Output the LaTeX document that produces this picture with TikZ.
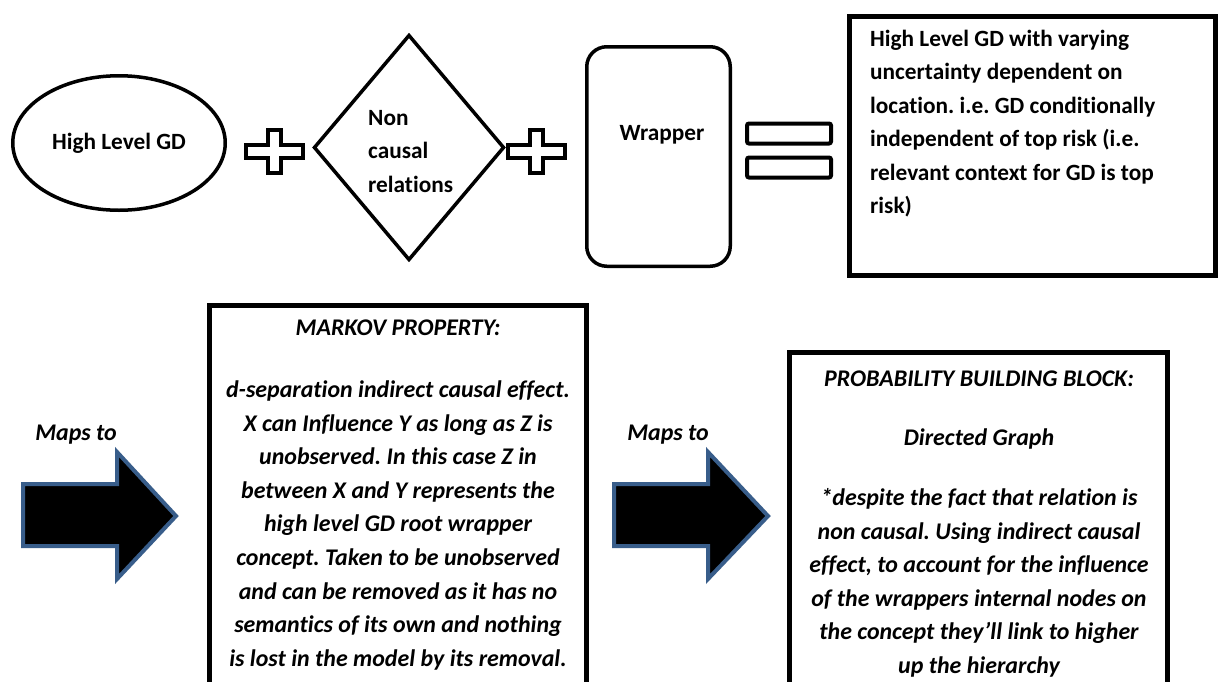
\documentclass[tikz,border=0pt]{standalone}
\usepackage{fontspec}
\setmainfont{Carlito}[Ligatures=NoCommon]
\usetikzlibrary{shapes.geometric}
\definecolor{arrowblue}{HTML}{385D8A}
\frenchspacing
\tikzset{
  shapeline/.style={draw=black, line width=3.5pt},
  boxline/.style={draw=black, line width=5pt, inner sep=0pt},
  txt/.style={font=\fontsize{23.3}{33.5}\selectfont\bfseries, inner sep=0pt},
  itxt/.style={font=\fontsize{23.9}{33.6}\selectfont\bfseries\itshape, inner sep=0pt, align=center},
  bigarrow/.style={fill=black, draw=arrowblue, line width=4pt, line join=miter},
  eqbar/.style={draw=black, line width=4pt, rounded corners=2pt, minimum width=84pt, minimum height=20pt, inner sep=0pt},
  pics/plussign/.style={code={
    \draw[line width=3.8pt, line join=miter]
      (-6.5,-21.5) -- (6.5,-21.5) -- (6.5,-6.5) -- (28.5,-6.5) -- (28.5,6.5) -- (6.5,6.5)
      -- (6.5,21.5) -- (-6.5,21.5) -- (-6.5,6.5) -- (-28.5,6.5) -- (-28.5,-6.5) -- (-6.5,-6.5) -- cycle;
  }}
}
\begin{document}
\begin{tikzpicture}[x=1pt,y=-1pt]
\clip (0,0) rectangle (1224,681);
\fill[white] (0,0) rectangle (1224,681);

% top row
\node[ellipse, shapeline, minimum width=212.5pt, minimum height=134.5pt, inner sep=0pt, txt] (hl) at (119,143) {High Level GD};
\pic at (274.5,151.5) {plussign};
\node[diamond, shapeline, minimum width=190.5pt, minimum height=225.5pt, inner sep=0pt] (nc) at (409,147.5) {};
\node[txt, align=left, anchor=north west] (nct) at (368,110) {Non\\causal\\relations};
\pic at (536.5,151.5) {plussign};
\node[shapeline, rounded corners=20pt, minimum width=143.5pt, minimum height=219.5pt, inner sep=0pt] (wr) at (658.5,156.5) {};
\node[txt] (wrt) at (662,135) {Wrapper};
\node[eqbar] (eq1) at (789,133.5) {};
\node[eqbar] (eq2) at (789,167.5) {};
\node[boxline, minimum width=366pt, minimum height=259pt] (res) at (1032.5,146) {};
\node[txt, align=left, anchor=north west] (rest) at (870,29.5) {High Level GD with varying\\uncertainty dependent on\\location. i.e. GD conditionally\\independent of top risk (i.e.\\relevant context for GD is top\\risk)};

% bottom row
\node[itxt] (map1) at (76,435) {Maps to};
\draw[bigarrow] (23,484) -- (117,484) -- (117,452) -- (176,516) -- (117,579) -- (117,546) -- (23,546) -- cycle;
\node[boxline, minimum width=377pt, minimum height=430pt] (mk) at (398,520.5) {};
\node[itxt, anchor=north] (mkt) at (398,319.5) {MARKOV PROPERTY:\\[28.5pt]d-separation indirect causal effect.\\X can Influence Y as long as Z is\\unobserved. In this case Z in\\between X and Y represents the\\high level GD root wrapper\\concept. Taken to be unobserved\\and can be removed as it has no\\semantics of its own and nothing\\is lost in the model by its removal.};

\node[itxt] (map2) at (668,435) {Maps to};
\draw[bigarrow] (614,484) -- (708,484) -- (708,452) -- (768,516) -- (708,579) -- (708,546) -- (614,546) -- cycle;
\node[boxline, minimum width=378pt, minimum height=380pt] (pb) at (978.5,542.5) {};
\node[itxt, anchor=north] (pbt) at (979,370.5) {PROBABILITY BUILDING BLOCK:\\[25.5pt]Directed Graph\\[26.5pt]*despite the fact that relation is\\non causal. Using indirect causal\\effect, to account for the influence\\of the wrappers internal nodes on\\the concept they’ll link to higher\\up the hierarchy};
\end{tikzpicture}
\end{document}
